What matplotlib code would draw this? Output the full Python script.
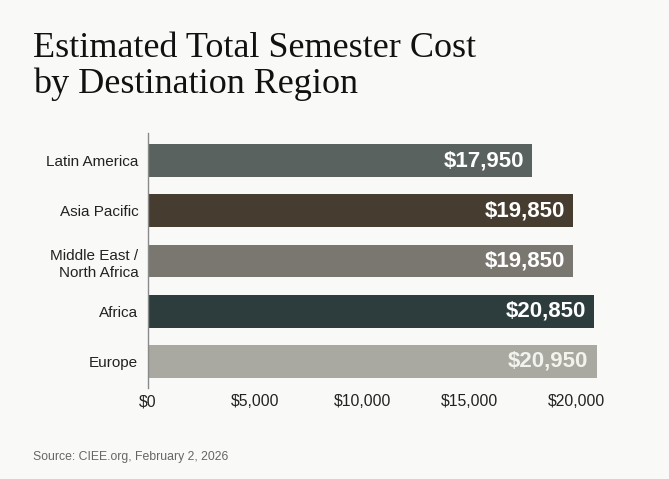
import matplotlib
matplotlib.use("Agg")
import matplotlib.pyplot as plt

regions = ["Latin America", "Asia Pacific", "Middle East /\nNorth Africa", "Africa", "Europe"]
costs = [17950, 19850, 19850, 20850, 20950]
bar_colors = ["#59625e", "#463c2f", "#7a7770", "#2d3d3d", "#a9a9a1"]
label_colors = ["#ffffff", "#ffffff", "#ffffff", "#ffffff", "#f3f3ee"]
xticks = [0, 5000, 10000, 15000, 20000]
xtick_labels = ["$0", "$5,000", "$10,000", "$15,000", "$20,000"]
title_lines = ["Estimated Total Semester Cost", "by Destination Region"]

bg = "#f9f9f7"
fig = plt.figure(figsize=(6.69, 4.79), dpi=100, facecolor=bg)
ax = fig.add_axes([148/669, 1-388/479, (619-148)/669, (388-133)/479])
ax.set_facecolor(bg)

ypos = list(range(len(regions)))
ax.barh(ypos, costs, height=0.65, color=bar_colors)
for y, v, c in zip(ypos, costs, label_colors):
    ax.text(v - 380, y, f"${v:,}", ha="right", va="center", color=c,
            fontsize=16, fontweight="bold", family="Liberation Sans")

ax.set_ylim(4.53, -0.55)
ax.set_xlim(0, 22000)
ax.set_yticks(ypos)
ax.set_yticklabels(regions, fontsize=11, family="Liberation Sans", color="#222222",
                   ha="right", linespacing=1.35)
ax.set_xticks(xticks)
ax.set_xticklabels(xtick_labels, fontsize=11.3, family="Liberation Sans", color="#222222")
ax.tick_params(axis="both", length=0)
ax.tick_params(axis="y", pad=7)
ax.tick_params(axis="x", pad=4.5)
for s in ["top", "right", "bottom"]:
    ax.spines[s].set_visible(False)
ax.spines["left"].set_color("#8a8a8a")
ax.spines["left"].set_linewidth(1)

for line, base in zip(title_lines, [57, 93]):
    fig.text(33/669, 1-base/479, line, ha="left", va="baseline", fontsize=26,
             family="Liberation Serif", color="#111111")
fig.text(33/669, 1-460/479, "Source: CIEE.org, February 2, 2026", ha="left", va="baseline",
         fontsize=8.8, family="Liberation Sans", color="#666666")

fig.savefig("out.png", dpi=100, facecolor=bg)
